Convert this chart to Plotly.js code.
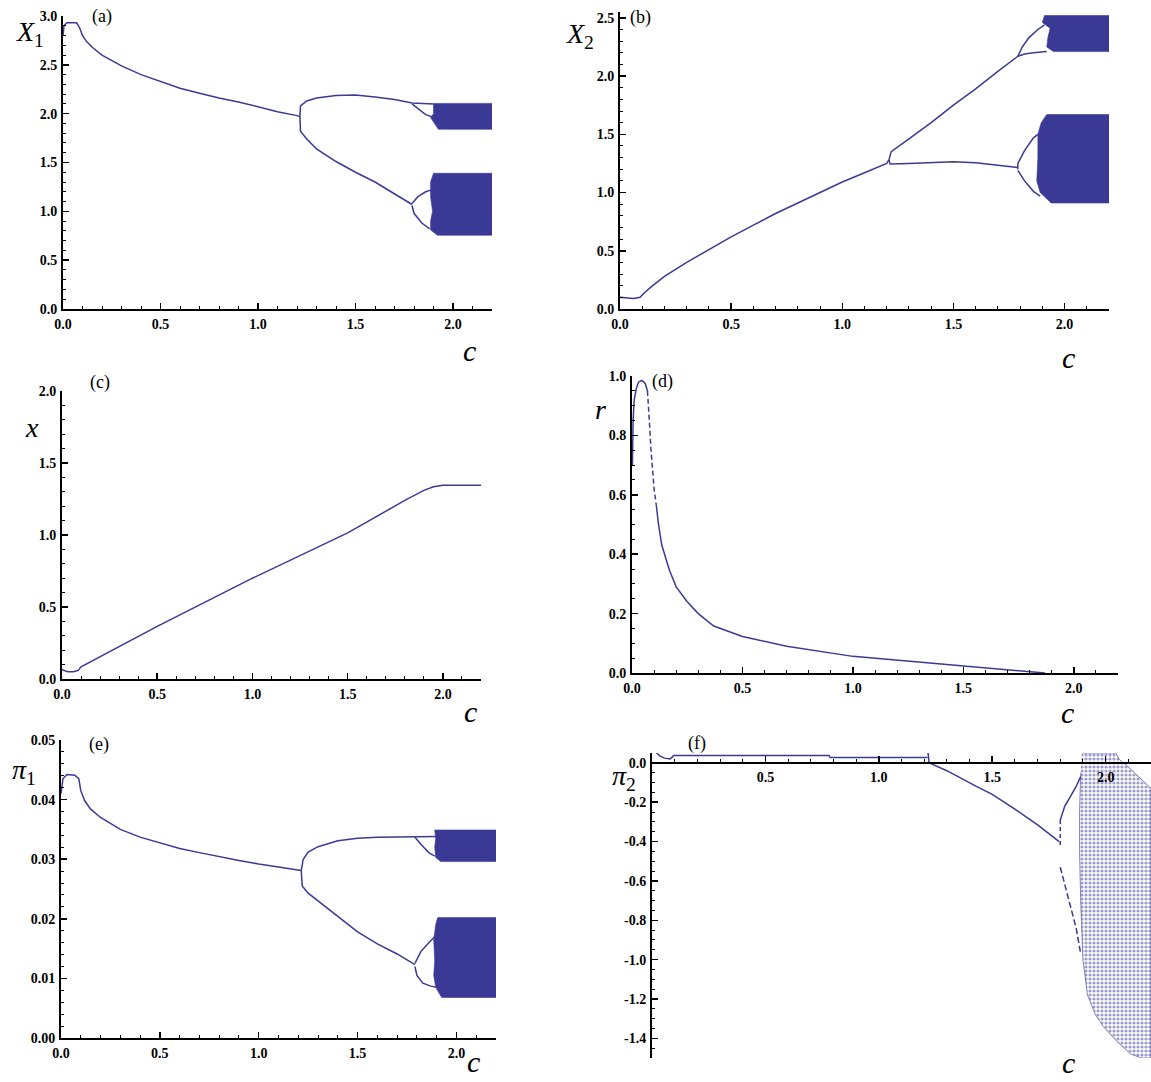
<!DOCTYPE html>
<html><head><meta charset="utf-8">
<script src="https://cdn.plot.ly/plotly-3.0.1.min.js"></script>
<style>html,body{margin:0;padding:0;background:#fff}#chart{width:1151px;height:1082px}</style>
</head><body><div id="chart"></div>
<script>
// ---------- DATA ----------
// (a) X1 versus c
const aMainC = [0, 0.005, 0.02, 0.07, 0.085, 0.1, 0.12, 0.15, 0.2, 0.3, 0.4, 0.5, 0.6, 0.7, 0.8, 0.9, 1.0, 1.1, 1.2, 1.215];
const aMainV = [2.80, 2.90, 2.93, 2.93, 2.88, 2.80, 2.74, 2.68, 2.60, 2.49, 2.40, 2.33, 2.26, 2.21, 2.16, 2.12, 2.07, 2.02, 1.98, 1.97];
const aUpC = [1.215, 1.218, 1.25, 1.3, 1.4, 1.5, 1.6, 1.7, 1.79, 1.9];
const aUpV = [1.97, 2.08, 2.13, 2.16, 2.185, 2.19, 2.17, 2.145, 2.11, 2.10];
const aUpSubC = [1.79, 1.82, 1.86, 1.89];
const aUpSubV = [2.10, 2.05, 1.99, 1.97];
const aLoC = [1.215, 1.218, 1.25, 1.3, 1.4, 1.5, 1.6, 1.7, 1.79];
const aLoV = [1.97, 1.82, 1.74, 1.64, 1.51, 1.40, 1.30, 1.18, 1.07];
const aLoSubUC = [1.79, 1.82, 1.86, 1.89];
const aLoSubUV = [1.08, 1.15, 1.20, 1.22];
const aLoSubLC = [1.79, 1.80, 1.84, 1.88];
const aLoSubLV = [1.06, 0.98, 0.88, 0.82];
const aBand1C = [1.90, 2.2, 2.2, 1.925, 1.885, 1.90, 1.90];
const aBand1V = [2.105, 2.105, 1.84, 1.84, 1.96, 2.00, 2.105];
const aBand2C = [1.90, 2.2, 2.2, 1.92, 1.885, 1.885, 1.895, 1.885, 1.885, 1.90];
const aBand2V = [1.39, 1.39, 0.755, 0.755, 0.81, 0.90, 1.00, 1.15, 1.30, 1.39];

// (b) X2 versus c
const bMainC = [0, 0.03, 0.06, 0.09, 0.11, 0.14, 0.2, 0.3, 0.4, 0.5, 0.6, 0.7, 0.8, 0.9, 1.0, 1.1, 1.2, 1.21];
const bMainV = [0.10, 0.095, 0.09, 0.10, 0.14, 0.19, 0.28, 0.40, 0.51, 0.62, 0.72, 0.82, 0.91, 1.00, 1.09, 1.17, 1.25, 1.28];
const bUpC = [1.21, 1.22, 1.3, 1.4, 1.5, 1.6, 1.7, 1.79];
const bUpV = [1.28, 1.35, 1.46, 1.60, 1.75, 1.89, 2.04, 2.17];
const bUpSubUC = [1.79, 1.81, 1.84, 1.88, 1.91];
const bUpSubUV = [2.17, 2.25, 2.33, 2.40, 2.44];
const bUpSubLC = [1.79, 1.82, 1.86, 1.92];
const bUpSubLV = [2.17, 2.19, 2.20, 2.21];
const bLoC = [1.21, 1.215, 1.3, 1.4, 1.5, 1.6, 1.7, 1.79];
const bLoV = [1.28, 1.245, 1.25, 1.26, 1.265, 1.255, 1.235, 1.215];
const bLoSubUC = [1.79, 1.79, 1.82, 1.86, 1.88];
const bLoSubUV = [1.20, 1.25, 1.36, 1.47, 1.50];
const bLoSubLC = [1.79, 1.82, 1.86, 1.89];
const bLoSubLV = [1.19, 1.10, 1.01, 0.97];
const bBand1C = [1.91, 2.2, 2.2, 1.95, 1.92, 1.925, 1.935, 1.90, 1.91];
const bBand1V = [2.52, 2.52, 2.21, 2.21, 2.25, 2.33, 2.41, 2.46, 2.52];
const bBand2C = [1.92, 2.2, 2.2, 1.94, 1.89, 1.875, 1.88, 1.88, 1.895, 1.92];
const bBand2V = [1.67, 1.67, 0.91, 0.91, 1.00, 1.10, 1.30, 1.50, 1.60, 1.67];

// (c) x versus c
const cC = [0, 0.03, 0.06, 0.085, 0.1, 0.2, 0.5, 1.0, 1.5, 1.8, 1.9, 1.95, 2.0, 2.2];
const cV = [0.065, 0.05, 0.05, 0.06, 0.085, 0.155, 0.365, 0.70, 1.015, 1.24, 1.31, 1.335, 1.345, 1.345];

// (d) r versus c
const dLeftC = [0.002, 0.005, 0.01, 0.02, 0.03, 0.045, 0.06, 0.07];
const dLeftV = [0.70, 0.85, 0.92, 0.96, 0.98, 0.985, 0.975, 0.95];
const dDashC = [0.07, 0.075, 0.08, 0.085, 0.093, 0.10, 0.11];
const dDashV = [0.95, 0.90, 0.83, 0.76, 0.68, 0.62, 0.565];
const dTailC = [0.11, 0.12, 0.135, 0.15, 0.17, 0.2, 0.25, 0.3, 0.37, 0.5, 0.7, 1.0, 1.25, 1.5, 1.7, 1.85, 1.87];
const dTailV = [0.565, 0.50, 0.43, 0.39, 0.345, 0.29, 0.24, 0.20, 0.158, 0.123, 0.09, 0.056, 0.04, 0.026, 0.012, 0.002, 0.0];

// (e) pi1 versus c
const eMainC = [0, 0.01, 0.03, 0.07, 0.09, 0.1, 0.12, 0.15, 0.2, 0.3, 0.4, 0.5, 0.6, 0.7, 0.8, 0.9, 1.0, 1.1, 1.2, 1.215];
const eMainV = [0.041, 0.0435, 0.0442, 0.0441, 0.0435, 0.0415, 0.0398, 0.0384, 0.0370, 0.0350, 0.0337, 0.0327, 0.0318, 0.0311, 0.0304, 0.0298, 0.0292, 0.0287, 0.0282, 0.0281];
const eUpC = [1.215, 1.225, 1.25, 1.3, 1.4, 1.5, 1.6, 1.7, 1.79, 1.9];
const eUpV = [0.0281, 0.0300, 0.0312, 0.0321, 0.0331, 0.0335, 0.0337, 0.0337, 0.0337, 0.0338];
const eUpSubC = [1.79, 1.82, 1.86, 1.89];
const eUpSubV = [0.0337, 0.0325, 0.0311, 0.0305];
const eLoC = [1.215, 1.22, 1.25, 1.3, 1.4, 1.5, 1.6, 1.7, 1.79];
const eLoV = [0.0281, 0.0255, 0.0243, 0.0230, 0.0203, 0.0178, 0.0158, 0.0141, 0.0123];
const eLoSubUC = [1.79, 1.82, 1.86, 1.89];
const eLoSubUV = [0.0125, 0.0145, 0.0160, 0.0170];
const eLoSubLC = [1.79, 1.80, 1.83, 1.87, 1.90];
const eLoSubLV = [0.0120, 0.0105, 0.0092, 0.0087, 0.0085];
const eBand1C = [1.89, 2.2, 2.2, 1.92, 1.895, 1.89, 1.895, 1.89];
const eBand1V = [0.0349, 0.0349, 0.0296, 0.0296, 0.0303, 0.0320, 0.0335, 0.0349];
const eBand2C = [1.905, 2.2, 2.2, 1.925, 1.895, 1.885, 1.89, 1.885, 1.895, 1.905];
const eBand2V = [0.0202, 0.0202, 0.0068, 0.0068, 0.0085, 0.0105, 0.0130, 0.0165, 0.0190, 0.0202];

// (f) pi2 versus c
const fTopC = [0.02, 0.035, 0.055, 0.08, 0.09, 0.095, 0.78, 0.785, 1.215];
const fTopV = [0.05, 0.035, 0.024, 0.02, 0.03, 0.037, 0.037, 0.027, 0.027];
const fTickC = [1.217, 1.22, 1.222];
const fTickV = [0.05, 0.02, 0.0];
const fLoC = [1.222, 1.3, 1.43, 1.5, 1.6, 1.7, 1.795];
const fLoV = [0.0, -0.04, -0.12, -0.16, -0.235, -0.315, -0.40];
const fSplitC = [1.80, 1.80];
const fSplitV = [-0.29, -0.42];
const fSubUC = [1.80, 1.82, 1.845, 1.87, 1.89];
const fSubUV = [-0.29, -0.22, -0.17, -0.12, -0.07];
const fSubLC = [1.80, 1.82, 1.845, 1.87, 1.89];
const fSubLV = [-0.53, -0.62, -0.72, -0.84, -0.97];
const fBlobC = [1.895, 1.93, 1.99, 2.045, 2.06, 2.1, 2.145, 2.2, 2.2, 2.16, 2.11, 2.045, 1.99, 1.955, 1.92, 1.90, 1.89, 1.885, 1.885, 1.89];
const fBlobV = [0.05, 0.05, 0.05, 0.05, 0.017, -0.02, -0.07, -0.13, -1.5, -1.5, -1.48, -1.41, -1.34, -1.28, -1.18, -1.0, -0.7, -0.45, -0.25, -0.05];

// tick labels
const xTickVals = [0, 0.5, 1.0, 1.5, 2.0];
const xTickText = ['0.0', '0.5', '1.0', '1.5', '2.0'];
const fXTickVals = [0.5, 1.0, 1.5, 2.0];
const fXTickText = ['0.5', '1.0', '1.5', '2.0'];
const fYTickVals = [0, -0.2, -0.4, -0.6, -0.8, -1.0, -1.2, -1.4];
const fYTickText = ['0.0', '-0.2', '-0.4', '-0.6', '-0.8', '-1.0', '-1.2', '-1.4'];

// ---------- LAYOUT HELPERS ----------
const W = 1151, H = 1082;
const BLUE = '#3a3a96';
const px = x => x / W;
const py = y => 1 - y / H;
const boxes = {
  1: {x0: 63, x1: 492, yt: 16, yb: 309},
  2: {x0: 620, x1: 1109, yt: 12, yb: 309},
  3: {x0: 62, x1: 481, yt: 391, yb: 679},
  4: {x0: 632, x1: 1118, yt: 376, yb: 673},
  5: {x0: 61, x1: 496, yt: 740, yb: 1038},
  6: {x0: 652, x1: 1151, yt: 753, yb: 1058}
};
const tickFont = {family: 'Liberation Serif, Times New Roman, serif', size: 14, color: '#000', weight: 'bold'};

function xAxis(i, extra) {
  const b = boxes[i];
  return Object.assign({
    domain: [px(b.x0), px(b.x1)], anchor: 'y' + (i === 1 ? '' : i), range: [0, 2.2],
    showline: true, linecolor: '#000', linewidth: 2, mirror: false,
    ticks: 'inside', ticklen: 6, tickwidth: 1.5, tickcolor: '#000',
    tickmode: 'array', tickvals: xTickVals, ticktext: xTickText,
    minor: {tickmode: 'linear', dtick: 0.1, tick0: 0, ticks: 'inside', ticklen: 3, tickwidth: 1, tickcolor: '#000'},
    showgrid: false, zeroline: false, tickfont: tickFont, ticklabelstandoff: 1, fixedrange: true
  }, extra || {});
}
function yAxis(i, range, dtick, mdtick, fmt, extra) {
  const b = boxes[i];
  return Object.assign({
    domain: [py(b.yb), py(b.yt)], anchor: 'x' + (i === 1 ? '' : i), range: range,
    showline: true, linecolor: '#000', linewidth: 2, mirror: false,
    ticks: 'inside', ticklen: 6, tickwidth: 1.5, tickcolor: '#000',
    tickmode: 'linear', tick0: 0, dtick: dtick, tickformat: fmt,
    minor: {tickmode: 'linear', dtick: mdtick, tick0: 0, ticks: 'inside', ticklen: 3, tickwidth: 1, tickcolor: '#000'},
    showgrid: false, zeroline: false, tickfont: tickFont, ticklabelstandoff: 1, fixedrange: true
  }, extra || {});
}

const traces = [];
function line(i, xs, ys, dash, w) {
  const s = i === 1 ? '' : String(i);
  traces.push({type: 'scatter', mode: 'lines', x: xs, y: ys, xaxis: 'x' + s, yaxis: 'y' + s,
    line: {color: BLUE, width: w || 1.5, dash: dash || 'solid'}, hoverinfo: 'skip', showlegend: false});
}
function band(i, xs, ys, sparse) {
  const s = i === 1 ? '' : String(i);
  if (sparse) {
    traces.push({type: 'scatter', mode: 'lines', x: xs, y: ys, xaxis: 'x' + s, yaxis: 'y' + s,
      fill: 'toself', fillcolor: 'rgba(58,58,150,0.3)', line: {color: 'rgba(58,58,150,0.6)', width: 1},
      fillpattern: {shape: '.', fgcolor: BLUE, bgcolor: 'rgba(255,255,255,0)', size: 4, solidity: 0.5, fillmode: 'overlay'},
      hoverinfo: 'skip', showlegend: false});
    return;
  }
  traces.push({type: 'scatter', mode: 'lines', x: xs, y: ys, xaxis: 'x' + s, yaxis: 'y' + s,
    fill: 'toself', fillcolor: BLUE, line: {color: BLUE, width: 0.6},
    hoverinfo: 'skip', showlegend: false});
}

// (a)
line(1, aMainC, aMainV); line(1, aUpC, aUpV); line(1, aUpSubC, aUpSubV);
line(1, aLoC, aLoV); line(1, aLoSubUC, aLoSubUV); line(1, aLoSubLC, aLoSubLV);
band(1, aBand1C, aBand1V); band(1, aBand2C, aBand2V);
// (b)
line(2, bMainC, bMainV); line(2, bUpC, bUpV); line(2, bUpSubUC, bUpSubUV); line(2, bUpSubLC, bUpSubLV);
line(2, bLoC, bLoV); line(2, bLoSubUC, bLoSubUV); line(2, bLoSubLC, bLoSubLV);
band(2, bBand1C, bBand1V); band(2, bBand2C, bBand2V);
// (c)
line(3, cC, cV);
// (d)
line(4, dLeftC, dLeftV); line(4, dDashC, dDashV, '5px,3px'); line(4, dTailC, dTailV);
// (e)
line(5, eMainC, eMainV); line(5, eUpC, eUpV); line(5, eUpSubC, eUpSubV);
line(5, eLoC, eLoV); line(5, eLoSubUC, eLoSubUV); line(5, eLoSubLC, eLoSubLV);
band(5, eBand1C, eBand1V); band(5, eBand2C, eBand2V);
// (f)
band(6, fBlobC, fBlobV, true);
line(6, fTopC, fTopV); line(6, fTickC, fTickV); line(6, fLoC, fLoV);
line(6, fSplitC, fSplitV, '4px,3px'); line(6, fSubUC, fSubUV); line(6, fSubLC, fSubLV, '6px,3px');

const fY0 = py(boxes[6].yb) + (py(boxes[6].yt) - py(boxes[6].yb)) * (1.5 / 1.55);

const layout = {
  width: W, height: H, margin: {l: 0, r: 0, t: 0, b: 0}, paper_bgcolor: '#fff', plot_bgcolor: 'rgba(0,0,0,0)',
  showlegend: false,
  xaxis: xAxis(1), yaxis: yAxis(1, [0, 3], 0.5, 0.1, '.1f'),
  xaxis2: xAxis(2), yaxis2: yAxis(2, [0, 2.55], 0.5, 0.1, '.1f'),
  xaxis3: xAxis(3), yaxis3: yAxis(3, [0, 2], 0.5, 0.1, '.1f'),
  xaxis4: xAxis(4), yaxis4: yAxis(4, [0, 1], 0.2, 0.05, '.1f'),
  xaxis5: xAxis(5), yaxis5: yAxis(5, [0, 0.05], 0.01, 0.002, '.2f'),
  xaxis6: xAxis(6, {anchor: 'free', position: fY0, tickvals: fXTickVals, ticktext: fXTickText}),
  yaxis6: yAxis(6, [-1.5, 0.05], 0.2, 0.05, '.1f', {tickmode: 'array', tickvals: fYTickVals, ticktext: fYTickText}),
  annotations: []
};

const serif = 'Liberation Serif, Times New Roman, serif';
function ann(text, x, y, size, italic) {
  layout.annotations.push({text: text, x: px(x), y: py(y), xref: 'paper', yref: 'paper', showarrow: false,
    xanchor: 'center', yanchor: 'middle', font: {family: serif, size: size, color: '#000', style: italic ? 'italic' : 'normal'}});
}
const up = s => '<span style="font-style:normal">' + s + '</span>';
// panel tags
ann('(a)', 102, 17, 18); ann('(b)', 640, 18, 18); ann('(c)', 100, 382, 18);
ann('(d)', 662, 381, 18); ann('(e)', 99, 744, 18); ann('(f)', 697, 743, 18);
// axis symbols
ann('X<sub>' + up('1') + '</sub>', 30, 34, 28, true); ann('X<sub>' + up('2') + '</sub>', 580, 36, 28, true);
ann('x', 32, 427, 28, true); ann('r', 601, 409, 28, true);
ann('π<sub>' + up('1') + '</sub>', 24, 771, 28, true); ann('π<sub>' + up('2') + '</sub>', 624, 777, 28, true);
ann('c', 469, 350, 30, true); ann('c', 1068, 357, 30, true);
ann('c', 470, 711, 30, true); ann('c', 1067, 712, 30, true);
ann('c', 473, 1061, 30, true); ann('c', 1068, 1062, 30, true);

Plotly.newPlot('chart', traces, layout, {staticPlot: true, displayModeBar: false});
</script></body></html>
